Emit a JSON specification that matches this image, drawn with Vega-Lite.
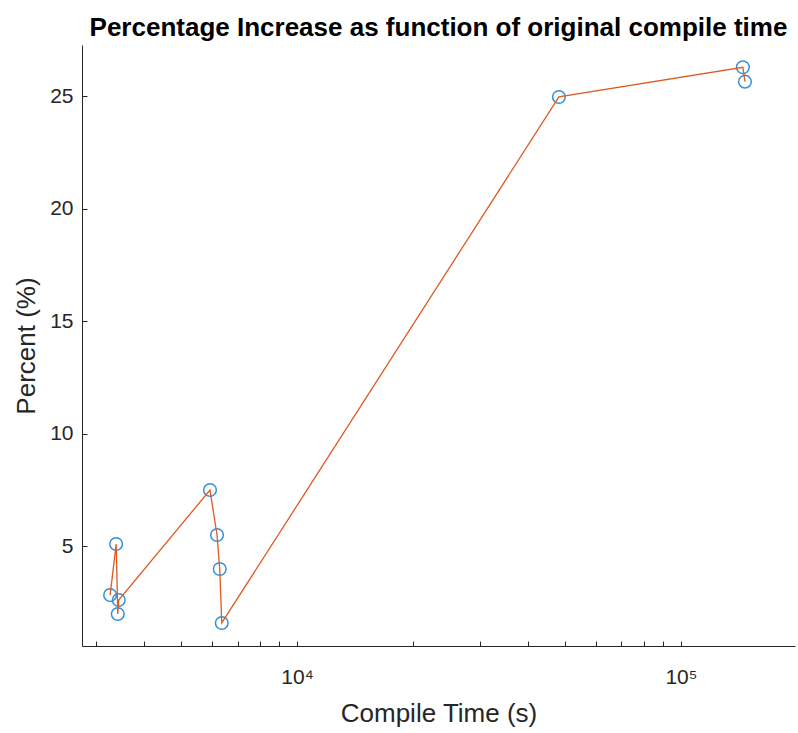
{
  "$schema": "https://vega.github.io/schema/vega-lite/v6.json",
  "width": 713,
  "height": 601,
  "autosize": {"type": "none"},
  "padding": {"left": 82, "top": 45, "right": 3, "bottom": 87},
  "background": "white",
  "title": {
    "text": "Percentage Increase as function of original compile time",
    "font": "Liberation Sans",
    "fontSize": 26,
    "fontWeight": "bold",
    "color": "#000000",
    "anchor": "middle",
    "offset": 4
  },
  "config": {
    "view": {"stroke": null},
    "axis": {
      "grid": false,
      "domainColor": "#262626",
      "tickColor": "#262626",
      "labelColor": "#262626",
      "titleColor": "#262626",
      "labelFont": "Liberation Sans",
      "titleFont": "Liberation Sans",
      "labelFontSize": 21,
      "titleFontSize": 26,
      "titleFontWeight": "normal",
      "domainWidth": 1,
      "tickWidth": 1
    }
  },
  "data": {
    "values": [
      {"time": 3260, "pct": 2.82},
      {"time": 3380, "pct": 5.09},
      {"time": 3413, "pct": 1.98},
      {"time": 3433, "pct": 2.6},
      {"time": 5934, "pct": 7.49},
      {"time": 6190, "pct": 5.49},
      {"time": 6291, "pct": 3.98},
      {"time": 6368, "pct": 1.58},
      {"time": 48100, "pct": 24.96},
      {"time": 145000, "pct": 26.28},
      {"time": 146800, "pct": 25.64}
    ]
  },
  "encoding": {
    "x": {
      "field": "time",
      "type": "quantitative",
      "scale": {"type": "log", "domain": [2754, 198200], "nice": false},
      "axis": {
        "title": "Compile Time (s)",
        "values": [3000, 4000, 5000, 6000, 7000, 8000, 9000, 10000, 20000, 30000, 40000, 50000, 60000, 70000, 80000, 90000, 100000],
        "labelExpr": "datum.value == 10000 ? '10⁴' : (datum.value == 100000 ? '10⁵' : '')",
        "tickSize": -5,
        "labelPadding": 25,
        "titlePadding": 13,
        "labelOverlap": false,
        "labelFlush": false
      }
    },
    "y": {
      "field": "pct",
      "type": "quantitative",
      "scale": {"domain": [0.556, 27.27], "nice": false, "zero": false},
      "axis": {
        "title": "Percent (%)",
        "values": [5, 10, 15, 20, 25],
        "tickSize": -5,
        "labelPadding": 14,
        "titlePadding": 10
      }
    }
  },
  "layer": [
    {
      "mark": {"type": "point", "shape": "circle", "filled": false, "size": 160, "stroke": "#3590d8", "strokeWidth": 1.5, "opacity": 1}
    },
    {
      "mark": {"type": "line", "color": "#DD5A22", "strokeWidth": 1.3}
    }
  ]
}
